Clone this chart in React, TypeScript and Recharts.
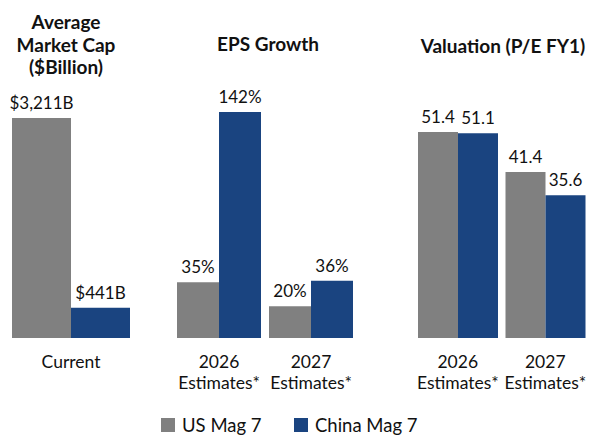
import { BarChart, Bar, XAxis, YAxis, LabelList } from "recharts"

const capCategories = ["Current"]
const capUS = [3211]
const capChina = [441]

const epsCategories = ["2026|Estimates*", "2027|Estimates*"]
const epsUS = [35, 20]
const epsChina = [142, 36]

const peCategories = ["2026|Estimates*", "2027|Estimates*"]
const peUS = [51.4, 41.4]
const peChina = [51.1, 35.6]

const US_COLOR = "#808080"
const CN_COLOR = "#1a4480"
const FONT = "Lato, sans-serif"
const FS = 17
const H = 400

const toRows = (cats: string[], us: number[], cn: number[]) =>
  cats.map((name, i) => ({ name, us: us[i], cn: cn[i] }))

function Tick(props: any) {
  const { x, y, payload } = props
  const lines = String(payload.value).split("|")
  return (
    <g>
      {lines.map((l, i) => (
        <text
          key={i}
          x={x}
          y={y + 22 + i * 21}
          textAnchor="middle"
          fill="#111"
          fontSize={17.5}
          fontFamily={FONT}
        >
          {l}
        </text>
      ))}
    </g>
  )
}

interface PanelProps {
  left: number
  width: number
  top: number
  barSize: number
  data: Array<{ name: string; us: number; cn: number }>
  fmt: (v: any) => string
}

function Panel({ left, width, top, barSize, data, fmt }: PanelProps) {
  const label = { fill: "#111", fontSize: FS, fontFamily: FONT }
  return (
    <div style={{ position: "absolute", left, top: 0 }}>
      <BarChart
        width={width}
        height={H}
        data={data}
        margin={{ top, right: 0, bottom: 10, left: 0 }}
        barGap={0}
        barSize={barSize}
      >
        <XAxis dataKey="name" axisLine={false} tickLine={false} height={52} tick={<Tick />} interval={0} />
        <YAxis hide domain={[0, "dataMax"]} />
        <Bar dataKey="us" fill={US_COLOR} isAnimationActive={false}>
          <LabelList dataKey="us" position="top" offset={9} formatter={fmt} style={label} />
        </Bar>
        <Bar dataKey="cn" fill={CN_COLOR} isAnimationActive={false}>
          <LabelList dataKey="cn" position="top" offset={9} formatter={fmt} style={label} />
        </Bar>
      </BarChart>
    </div>
  )
}

const titleStyle = (cx: number, top: number): React.CSSProperties => ({
  position: "absolute",
  left: cx - 100,
  width: 200,
  top,
  textAlign: "center",
  fontFamily: FONT,
  fontWeight: "bold",
  fontSize: 19,
  lineHeight: "22.5px",
  color: "#111",
})

export default function App() {
  return (
    <div style={{ position: "absolute", left: 0, top: 0, width: 589, height: 435, background: "#fff", overflow: "hidden" }}>
      <div style={titleStyle(66, 11)}>
        Average
        <br />
        Market Cap
        <br />
        ($Billion)
      </div>
      <div style={titleStyle(268, 33)}>EPS Growth</div>
      <div style={titleStyle(503, 35)}>Valuation (P/E FY1)</div>

      <Panel
        left={0}
        width={142}
        top={118}
        barSize={59}
        data={toRows(capCategories, capUS, capChina)}
        fmt={(v) => `$${Number(v).toLocaleString("en-US")}B`}
      />
      <Panel
        left={173}
        width={184}
        top={112}
        barSize={42}
        data={toRows(epsCategories, epsUS, epsChina)}
        fmt={(v) => `${v}%`}
      />
      <Panel
        left={414}
        width={175}
        top={132}
        barSize={40}
        data={toRows(peCategories, peUS, peChina)}
        fmt={(v) => Number(v).toFixed(1)}
      />

      <div
        style={{
          position: "absolute",
          left: 161,
          top: 414,
          display: "flex",
          alignItems: "center",
          fontFamily: FONT,
          fontSize: 18.5,
          lineHeight: "22px",
          color: "#111",
        }}
      >
        <span style={{ width: 14, height: 14, background: US_COLOR, display: "inline-block", marginRight: 7 }} />
        <span style={{ width: 112 }}>US Mag 7</span>
        <span style={{ width: 14, height: 14, background: CN_COLOR, display: "inline-block", marginRight: 7 }} />
        <span>China Mag 7</span>
      </div>
    </div>
  )
}
